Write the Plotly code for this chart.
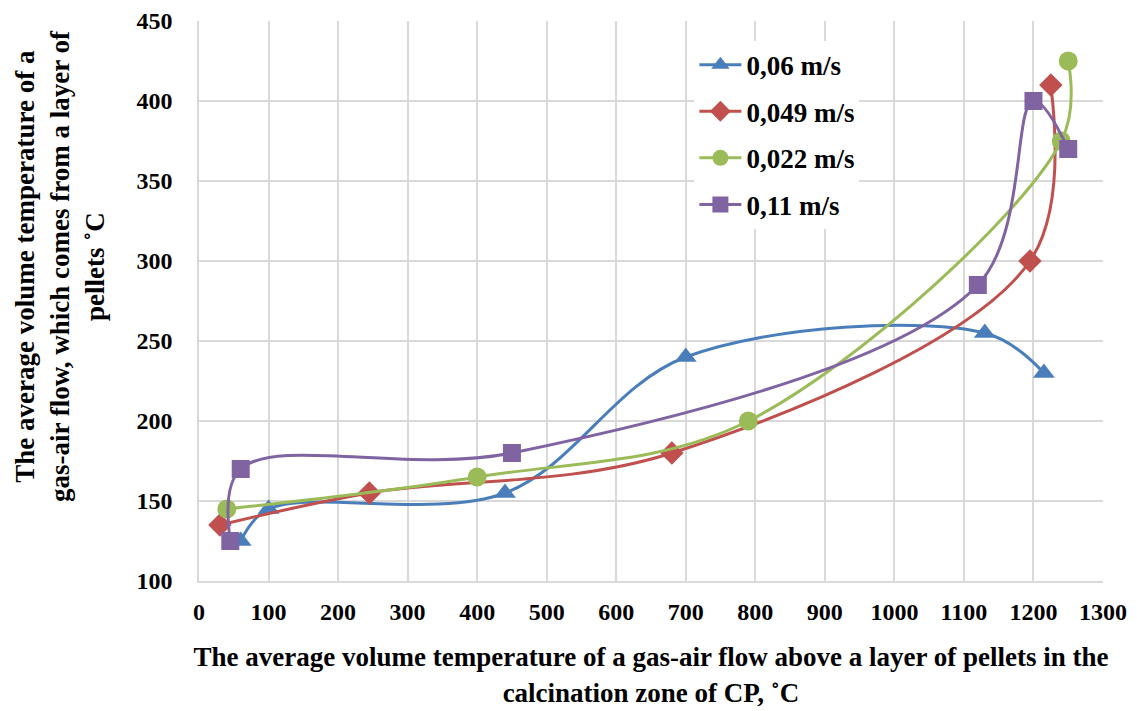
import plotly.graph_objects as go

# Data
names = ["0,06 m/s", "0,049 m/s", "0,022 m/s", "0,11 m/s"]
x_006 = [60, 100, 440, 700, 1130, 1215]
y_006 = [125, 145, 155, 240, 255, 230]
x_0049 = [30, 245, 680, 1195, 1225]
y_0049 = [135, 155, 180, 300, 410]
x_0022 = [40, 400, 790, 1240, 1250]
y_0022 = [145, 165, 200, 375, 425]
x_011 = [45, 60, 450, 1120, 1200, 1250]
y_011 = [125, 170, 180, 285, 400, 370]

x_ticks = list(range(0, 1301, 100))
y_ticks = list(range(100, 451, 50))

x_title = "The average volume temperature of a gas-air flow above a layer of pellets in the<br>calcination zone of CP, ˚C"
y_title = "The average volume temperature of a<br>gas-air flow, which comes from a layer of<br>pellets ˚C"

series = [
    (names[0], x_006, y_006, "#4A7EBB", "triangle-up", 19),
    (names[1], x_0049, y_0049, "#C0504D", "diamond", 18),
    (names[2], x_0022, y_0022, "#9BBB59", "circle", 19),
    (names[3], x_011, y_011, "#8064A2", "square", 18),
]

fig = go.Figure()
for i, (n, xs, ys, c, sym, sz) in enumerate(series):
    fig.add_trace(go.Scatter(
        x=xs, y=ys, name=n, mode="lines+markers",
        line=dict(color=c, width=3, shape="spline", smoothing=1),
        marker=dict(symbol=sym, size=sz, color=c),
        legendgroup=str(i),
    ))

font_family = "Liberation Serif, Times New Roman, serif"
fig.update_layout(
    width=1137, height=711,
    margin=dict(l=191, r=42, t=13, b=138, autoexpand=False),
    paper_bgcolor="white", plot_bgcolor="white",
    font=dict(family=font_family, color="black"),
    showlegend=True,
    legend=dict(
        x=0.548, y=0.965, xanchor="left", yanchor="top",
        bgcolor="white", borderwidth=0,
        font=dict(size=27, family=font_family, color="black", weight="bold"),
        tracegroupgap=8.5, itemwidth=42,
    ),
    xaxis=dict(
        range=[0, 1300], tickvals=x_ticks, ticktext=[str(v) for v in x_ticks],
        showgrid=True, gridcolor="#D9D9D9", gridwidth=1.5, automargin=False,
        showline=True, linecolor="#D9D9D9", linewidth=1.5, zeroline=False,
        ticks="", ticklabelstandoff=8,
        tickfont=dict(size=24, family=font_family, weight="bold"),
        title=dict(text=x_title,
                   font=dict(size=27, family=font_family, weight="bold"), standoff=24),
    ),
    yaxis=dict(
        range=[100, 450], tickvals=y_ticks, ticktext=[str(v) for v in y_ticks],
        showgrid=True, gridcolor="#D9D9D9", gridwidth=1.5, automargin=False,
        showline=True, linecolor="#D9D9D9", linewidth=1.5, zeroline=False,
        ticks="", ticklabelstandoff=20,
        tickfont=dict(size=24, family=font_family, weight="bold"),
    ),
    annotations=[dict(
        text=y_title, textangle=-90, showarrow=False,
        xref="paper", yref="paper", x=-0.154, y=0.562,
        xanchor="center", yanchor="middle", align="center",
        font=dict(size=27, family=font_family, weight="bold", color="black"),
    )],
)

fig.write_html("out.html")
